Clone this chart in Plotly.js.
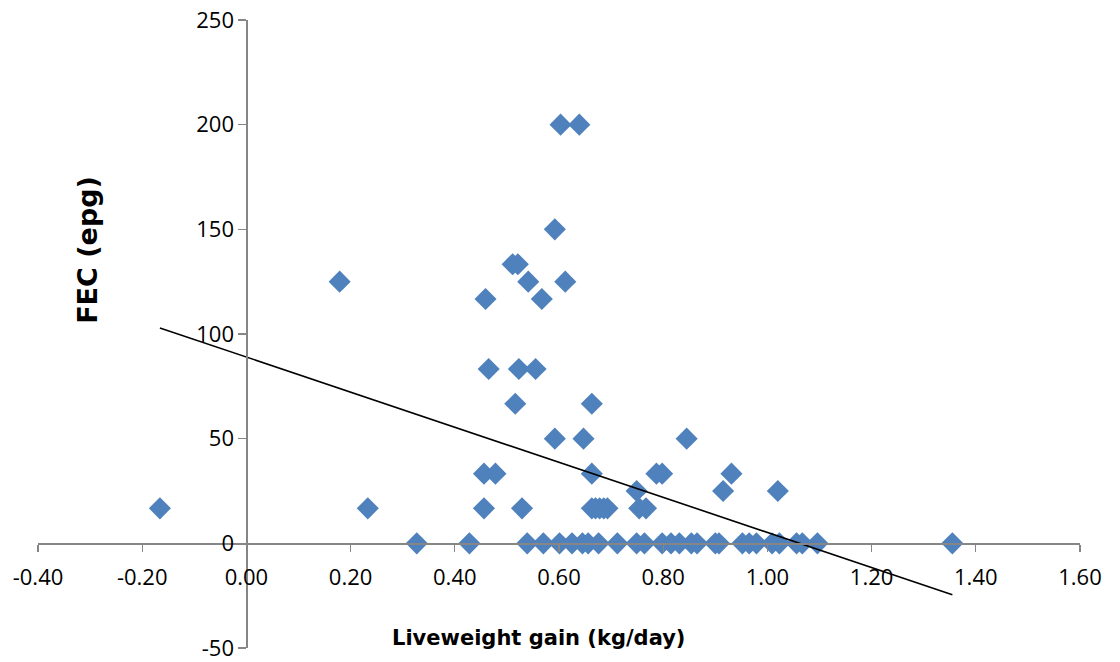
<!DOCTYPE html>
<html>
<head>
<meta charset="utf-8">
<script src="https://cdn.plot.ly/plotly-3.0.1.min.js"></script>
<style>html,body{margin:0;padding:0;background:#fff;}#chart{width:1120px;height:662px;}</style>
</head>
<body>
<div id="chart"></div>
<script>
// Liveweight gain (kg/day) and FEC (epg) for each animal
const lwg = [
  0.603, 0.639,
  0.592,
  0.511, 0.521,
  0.179, 0.541, 0.612,
  0.459, 0.567,
  0.465, 0.523, 0.555,
  0.516, 0.663,
  0.592, 0.647, 0.845,
  0.456, 0.478, 0.663, 0.787, 0.798, 0.931,
  0.749, 0.915, 1.020,
  -0.166, 0.233, 0.456, 0.529, 0.663, 0.670, 0.678, 0.686, 0.693, 0.754, 0.767,
  0.327, 0.428, 0.539, 0.570, 0.601, 0.625, 0.645, 0.656, 0.676, 0.712, 0.749,
  0.764, 0.798, 0.815, 0.831, 0.854, 0.865, 0.900, 0.907, 0.952, 0.965, 0.979,
  1.009, 1.023, 1.056, 1.067, 1.096, 1.355
];
const fec = [
  200, 200,
  150,
  133.3, 133.3,
  125, 125, 125,
  116.7, 116.7,
  83.3, 83.3, 83.3,
  66.7, 66.7,
  50, 50, 50,
  33.3, 33.3, 33.3, 33.3, 33.3, 33.3,
  25, 25, 25,
  16.7, 16.7, 16.7, 16.7, 16.7, 16.7, 16.7, 16.7, 16.7, 16.7, 16.7,
  0, 0, 0, 0, 0, 0, 0, 0, 0, 0, 0,
  0, 0, 0, 0, 0, 0, 0, 0, 0, 0, 0,
  0, 0, 0, 0, 0, 0
];
// Linear trendline
const trendSlope = -83.8;
const trendIntercept = 89.0;

const xTickVals = [-0.4, -0.2, 0, 0.2, 0.4, 0.6, 0.8, 1.0, 1.2, 1.4, 1.6];
const xTickText = ["-0.40", "-0.20", "0.00", "0.20", "0.40", "0.60", "0.80", "1.00", "1.20", "1.40", "1.60"];
const yTickVals = [-50, 0, 50, 100, 150, 200, 250];
const yTickText = ["-50", "0", "50", "100", "150", "200", "250"];

const xMin = Math.min(...lwg), xMax = Math.max(...lwg);
const trendX = [xMin, xMax];
const trendY = trendX.map(v => trendIntercept + trendSlope * v);

const axisColor = '#868686';
const tickFont = {family: 'Open Sans, Liberation Sans, sans-serif', size: 22, color: '#000'};

const data = [
  {
    x: lwg, y: fec, type: 'scatter', mode: 'markers',
    marker: {symbol: 'diamond', size: 17, color: '#4F81BD', line: {width: 0}},
    hoverinfo: 'x+y'
  },
  {
    x: trendX, y: trendY, type: 'scatter', mode: 'lines',
    line: {color: '#000000', width: 1.6}, hoverinfo: 'skip'
  }
];

const layout = {
  width: 1120, height: 662,
  margin: {l: 38, r: 40, t: 20, b: 14},
  paper_bgcolor: '#ffffff', plot_bgcolor: '#ffffff',
  showlegend: false,
  xaxis: {
    range: [-0.4, 1.6], anchor: 'free', position: 50 / 300,
    showgrid: false, zeroline: false, showline: true,
    linecolor: axisColor, linewidth: 1.3,
    ticks: 'outside', ticklen: 7, tickwidth: 1.3, tickcolor: axisColor,
    tickmode: 'array', tickvals: xTickVals, ticktext: xTickText,
    tickfont: tickFont, ticklabelstandoff: 7
  },
  yaxis: {
    range: [-50, 250], anchor: 'free', position: 0.2,
    showgrid: false, zeroline: false, showline: true,
    linecolor: axisColor, linewidth: 1.3,
    ticks: 'outside', ticklen: 8, tickwidth: 1.3, tickcolor: axisColor,
    tickmode: 'array', tickvals: yTickVals, ticktext: yTickText,
    tickfont: tickFont
  },
  annotations: [
    {
      text: 'Liveweight gain (kg/day)', xref: 'paper', yref: 'paper',
      x: 0.48, y: 0.016, xanchor: 'center', yanchor: 'middle', showarrow: false,
      font: {family: 'DejaVu Sans', size: 21, color: '#000', weight: 'bold'}
    },
    {
      text: 'FEC (epg)', xref: 'paper', yref: 'paper', textangle: -90,
      x: 0.048, y: 0.634, xanchor: 'center', yanchor: 'middle', showarrow: false,
      font: {family: 'DejaVu Sans', size: 27, color: '#000', weight: 'bold'}
    }
  ]
};

Plotly.newPlot('chart', data, layout, {displayModeBar: false, staticPlot: true});
</script>
</body>
</html>
